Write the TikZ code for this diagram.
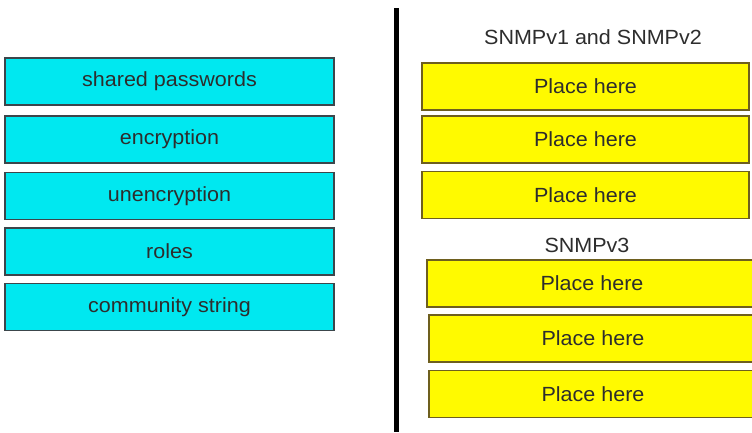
\documentclass[tikz,border=0pt]{standalone}
\usepackage{fontspec}
\setmainfont{Liberation Sans}[FakeStretch=1.05]
\definecolor{cyanfill}{RGB}{0,232,240}
\definecolor{cyanedge}{RGB}{60,70,75}
\definecolor{yelfill}{RGB}{255,250,0}
\definecolor{yeledge}{RGB}{110,95,30}
\definecolor{txt}{RGB}{45,45,45}
\begin{document}
\begin{tikzpicture}[x=1pt,y=-1pt,
  lbox/.style={draw=cyanedge, fill=cyanfill, line width=1.4pt, minimum width=329pt, minimum height=47pt, inner sep=0pt, text=txt, font=\fontsize{20.5}{24}\selectfont},
  ybox/.style={draw=yeledge, fill=yelfill, line width=1.4pt, minimum height=47pt, inner sep=0pt, text=txt, font=\fontsize{20.5}{24}\selectfont},
  head/.style={text=txt, inner sep=0pt, font=\fontsize{20.5}{24}\selectfont}]
\useasboundingbox (0,0) rectangle (752,432);
\fill[white] (0,0) rectangle (752,432);
% left boxes
\node[lbox] (l1) at (169.5,81.5) {shared passwords};
\node[lbox] (l2) at (169.5,139.5) {encryption};
\node[lbox] (l3) at (169.5,196) {unencryption};
\node[lbox] (l4) at (169.5,251.5) {roles};
\node[lbox] (l5) at (169.5,307) {community string};
% divider
\coordinate (dtop) at (396,8);
\coordinate (dbot) at (396,432);
\draw[line width=5pt, black] (dtop) -- (dbot);
% right side
\node[head] (h1) at (593,37) {SNMPv1 and SNMPv2};
\node[ybox, minimum width=327pt] (r1) at (585.5,86.5) {Place here};
\node[ybox, minimum width=327pt] (r2) at (585.5,139.5) {Place here};
\node[ybox, minimum width=327pt] (r3) at (585.5,195) {Place here};
\node[head] (h2) at (587,245) {SNMPv3};
\node[ybox, minimum width=330pt] (r4) at (592,283.5) {Place here};
\node[ybox, minimum width=328pt] (r5) at (593,338.5) {Place here};
\node[ybox, minimum width=328pt] (r6) at (593,394) {Place here};
\end{tikzpicture}
\end{document}
